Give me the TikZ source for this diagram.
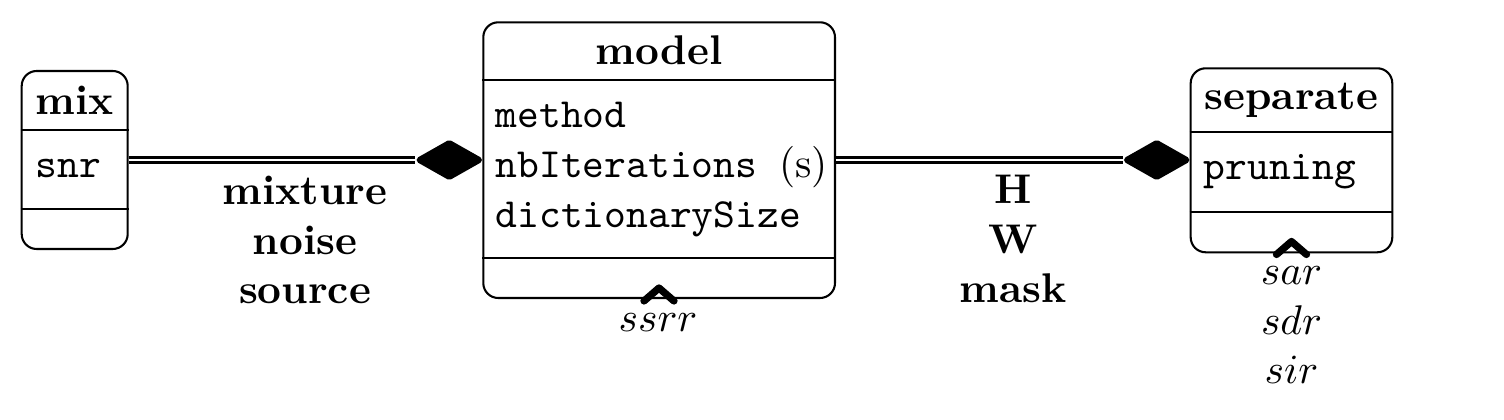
\documentclass[tikz,border=0pt]{standalone}
\usetikzlibrary{fit,shapes.geometric}
\begin{document}
\begin{tikzpicture}[x=0.241pt,y=-0.241pt,
  umlbox/.style={draw,line width=0.5pt,rounded corners=3.6pt,inner sep=0pt},
  divider/.style={line width=0.4pt},
  assoc/.style={double,double distance=0.5pt,line width=0.75pt},
  diam/.style={diamond,draw,fill,line width=1.5pt,line join=round,inner sep=0pt,
    minimum width=14.9pt,minimum height=8.7pt},
  chev/.style={line width=1.75pt,line cap=round,line join=round},
  title/.style={font=\bfseries,anchor=base,inner sep=0pt},
  attr/.style={font=\ttfamily,anchor=base west,inner sep=0pt,align=left},
  lbl/.style={font=\bfseries,anchor=base,inner sep=0pt,align=center},
  metric/.style={anchor=base,inner sep=0pt,align=center}]
\useasboundingbox (0,0) rectangle (1504,420);

% boxes
\node[umlbox,fit={(21.7,71) (127.7,249)}] (mix) {};
\node[umlbox,fit={(483.3,22.3) (835,298)}] (model) {};
\node[umlbox,fit={(1190.7,68.3) (1392.3,252.3)}] (separate) {};

% dividers
\draw[divider] (mix.west |- 0,130) -- (mix.east |- 0,130);
\draw[divider] (mix.west |- 0,209) -- (mix.east |- 0,209);
\draw[divider] (model.west |- 0,80) -- (model.east |- 0,80);
\draw[divider] (model.west |- 0,258) -- (model.east |- 0,258);
\draw[divider] (separate.west |- 0,131.7) -- (separate.east |- 0,131.7);
\draw[divider] (separate.west |- 0,212.3) -- (separate.east |- 0,212.3);

% texts in boxes (multi-line nodes: base = last line)
\node[title] (mixtitle) at (74.7,115) {mix};
\node[attr] (mixattr) at (35,178) {snr};
\node[title] (modeltitle) at (659,65) {model};
\node[attr] (modelattr) at (495,227.5) {method\\nbIterations {\rmfamily (s)}\\dictionarySize};
\node[title] (septitle) at (1291.5,110) {separate};
\node[attr] (separ) at (1203,180) {pruning};

% diamonds
\node[diam] (d1) at (449.3,160) {};
\node[diam] (d2) at (1156.7,160) {};

% connectors
\draw[assoc] (mix.east |- d1) -- (d1.west);
\draw[assoc] (model.east |- d2) -- (d2.west);

% connector labels
\node[lbl] (l1) at (305,304) {mixture\\noise\\source};
\node[lbl] (l2) at (1013,303) {H\\W\\mask};

% chevrons and metrics
\draw[chev] (644,301) -- (659,288) -- (674,301);
\draw[chev] (1276.5,254.5) -- (1291.5,241.5) -- (1306.5,254.5);
\node[metric] (m1) at (658,331.5) {$ssrr$};
\node[metric] (m2) at (1291.5,384) {$sar$\\$sdr$\\$sir$};
\end{tikzpicture}
\end{document}
